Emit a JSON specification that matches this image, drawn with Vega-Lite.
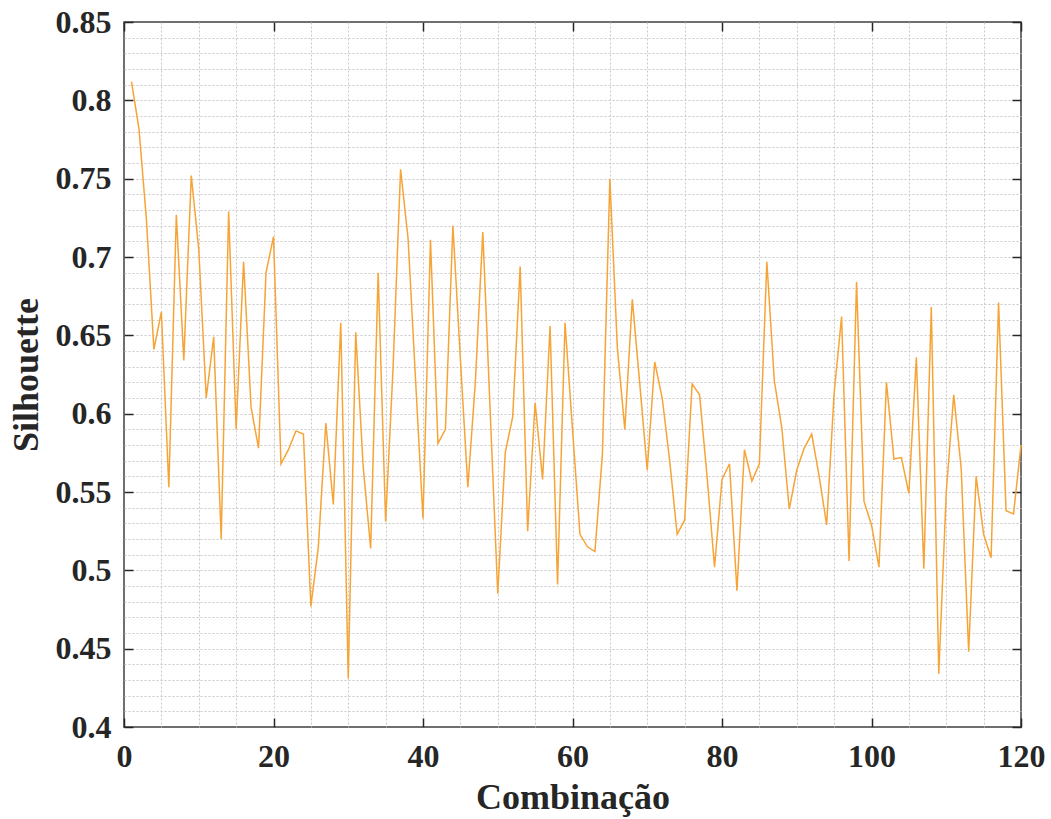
{
  "$schema": "https://vega.github.io/schema/vega-lite/v6.json",
  "autosize": "none",
  "width": 897,
  "height": 705,
  "padding": {"left": 124, "top": 22, "right": 30, "bottom": 92},
  "background": "white",
  "config": {
    "view": {"stroke": "#404040", "strokeWidth": 1.5},
    "font": "Liberation Serif",
    "axis": {
      "labelFont": "Liberation Serif",
      "labelFontWeight": "bold",
      "labelFontSize": 32,
      "labelColor": "#262626",
      "titleFont": "Liberation Serif",
      "titleFontWeight": "bold",
      "titleFontSize": 36,
      "titleColor": "#262626",
      "tickColor": "#262626",
      "domain": false
    }
  },
  "data": {
    "values": [
      {"Combinacao": 1, "Silhouette": 0.812}, {"Combinacao": 2, "Silhouette": 0.782}, {"Combinacao": 3, "Silhouette": 0.724}, {"Combinacao": 4, "Silhouette": 0.641}, {"Combinacao": 5, "Silhouette": 0.665},
      {"Combinacao": 6, "Silhouette": 0.553}, {"Combinacao": 7, "Silhouette": 0.727}, {"Combinacao": 8, "Silhouette": 0.634}, {"Combinacao": 9, "Silhouette": 0.752}, {"Combinacao": 10, "Silhouette": 0.705},
      {"Combinacao": 11, "Silhouette": 0.610}, {"Combinacao": 12, "Silhouette": 0.649}, {"Combinacao": 13, "Silhouette": 0.520}, {"Combinacao": 14, "Silhouette": 0.729}, {"Combinacao": 15, "Silhouette": 0.590},
      {"Combinacao": 16, "Silhouette": 0.697}, {"Combinacao": 17, "Silhouette": 0.604}, {"Combinacao": 18, "Silhouette": 0.578}, {"Combinacao": 19, "Silhouette": 0.690}, {"Combinacao": 20, "Silhouette": 0.713},
      {"Combinacao": 21, "Silhouette": 0.568}, {"Combinacao": 22, "Silhouette": 0.577}, {"Combinacao": 23, "Silhouette": 0.589}, {"Combinacao": 24, "Silhouette": 0.587}, {"Combinacao": 25, "Silhouette": 0.477},
      {"Combinacao": 26, "Silhouette": 0.515}, {"Combinacao": 27, "Silhouette": 0.594}, {"Combinacao": 28, "Silhouette": 0.542}, {"Combinacao": 29, "Silhouette": 0.658}, {"Combinacao": 30, "Silhouette": 0.431},
      {"Combinacao": 31, "Silhouette": 0.652}, {"Combinacao": 32, "Silhouette": 0.566}, {"Combinacao": 33, "Silhouette": 0.514}, {"Combinacao": 34, "Silhouette": 0.690}, {"Combinacao": 35, "Silhouette": 0.531},
      {"Combinacao": 36, "Silhouette": 0.630}, {"Combinacao": 37, "Silhouette": 0.756}, {"Combinacao": 38, "Silhouette": 0.712}, {"Combinacao": 39, "Silhouette": 0.622}, {"Combinacao": 40, "Silhouette": 0.533},
      {"Combinacao": 41, "Silhouette": 0.711}, {"Combinacao": 42, "Silhouette": 0.581}, {"Combinacao": 43, "Silhouette": 0.590}, {"Combinacao": 44, "Silhouette": 0.720}, {"Combinacao": 45, "Silhouette": 0.635},
      {"Combinacao": 46, "Silhouette": 0.553}, {"Combinacao": 47, "Silhouette": 0.620}, {"Combinacao": 48, "Silhouette": 0.716}, {"Combinacao": 49, "Silhouette": 0.600}, {"Combinacao": 50, "Silhouette": 0.485},
      {"Combinacao": 51, "Silhouette": 0.575}, {"Combinacao": 52, "Silhouette": 0.598}, {"Combinacao": 53, "Silhouette": 0.694}, {"Combinacao": 54, "Silhouette": 0.525}, {"Combinacao": 55, "Silhouette": 0.607},
      {"Combinacao": 56, "Silhouette": 0.558}, {"Combinacao": 57, "Silhouette": 0.656}, {"Combinacao": 58, "Silhouette": 0.491}, {"Combinacao": 59, "Silhouette": 0.658}, {"Combinacao": 60, "Silhouette": 0.590},
      {"Combinacao": 61, "Silhouette": 0.523}, {"Combinacao": 62, "Silhouette": 0.515}, {"Combinacao": 63, "Silhouette": 0.512}, {"Combinacao": 64, "Silhouette": 0.574}, {"Combinacao": 65, "Silhouette": 0.750},
      {"Combinacao": 66, "Silhouette": 0.642}, {"Combinacao": 67, "Silhouette": 0.590}, {"Combinacao": 68, "Silhouette": 0.673}, {"Combinacao": 69, "Silhouette": 0.619}, {"Combinacao": 70, "Silhouette": 0.564},
      {"Combinacao": 71, "Silhouette": 0.633}, {"Combinacao": 72, "Silhouette": 0.610}, {"Combinacao": 73, "Silhouette": 0.570}, {"Combinacao": 74, "Silhouette": 0.523}, {"Combinacao": 75, "Silhouette": 0.532},
      {"Combinacao": 76, "Silhouette": 0.619}, {"Combinacao": 77, "Silhouette": 0.612}, {"Combinacao": 78, "Silhouette": 0.560}, {"Combinacao": 79, "Silhouette": 0.502}, {"Combinacao": 80, "Silhouette": 0.558},
      {"Combinacao": 81, "Silhouette": 0.568}, {"Combinacao": 82, "Silhouette": 0.487}, {"Combinacao": 83, "Silhouette": 0.577}, {"Combinacao": 84, "Silhouette": 0.557}, {"Combinacao": 85, "Silhouette": 0.568},
      {"Combinacao": 86, "Silhouette": 0.697}, {"Combinacao": 87, "Silhouette": 0.621}, {"Combinacao": 88, "Silhouette": 0.591}, {"Combinacao": 89, "Silhouette": 0.539}, {"Combinacao": 90, "Silhouette": 0.564},
      {"Combinacao": 91, "Silhouette": 0.578}, {"Combinacao": 92, "Silhouette": 0.587}, {"Combinacao": 93, "Silhouette": 0.560}, {"Combinacao": 94, "Silhouette": 0.529}, {"Combinacao": 95, "Silhouette": 0.613},
      {"Combinacao": 96, "Silhouette": 0.662}, {"Combinacao": 97, "Silhouette": 0.506}, {"Combinacao": 98, "Silhouette": 0.684}, {"Combinacao": 99, "Silhouette": 0.544}, {"Combinacao": 100, "Silhouette": 0.529},
      {"Combinacao": 101, "Silhouette": 0.502}, {"Combinacao": 102, "Silhouette": 0.620}, {"Combinacao": 103, "Silhouette": 0.571}, {"Combinacao": 104, "Silhouette": 0.572}, {"Combinacao": 105, "Silhouette": 0.549},
      {"Combinacao": 106, "Silhouette": 0.636}, {"Combinacao": 107, "Silhouette": 0.501}, {"Combinacao": 108, "Silhouette": 0.668}, {"Combinacao": 109, "Silhouette": 0.434}, {"Combinacao": 110, "Silhouette": 0.550},
      {"Combinacao": 111, "Silhouette": 0.612}, {"Combinacao": 112, "Silhouette": 0.565}, {"Combinacao": 113, "Silhouette": 0.448}, {"Combinacao": 114, "Silhouette": 0.560}, {"Combinacao": 115, "Silhouette": 0.523},
      {"Combinacao": 116, "Silhouette": 0.508}, {"Combinacao": 117, "Silhouette": 0.671}, {"Combinacao": 118, "Silhouette": 0.538}, {"Combinacao": 119, "Silhouette": 0.536}, {"Combinacao": 120, "Silhouette": 0.580}
    ]
  },
  "layer": [
    {
      "mark": {"type": "line", "opacity": 0},
      "encoding": {
        "x": {"field": "Combinacao", "type": "quantitative", "scale": {"domain": [0, 120], "nice": false},
          "axis": {"orient": "bottom", "title": null, "labels": false, "ticks": false, "grid": true, "gridColor": "#c8c8c8", "gridDash": [2, 2], "gridWidth": 1, "values": [5,10,15,20,25,30,35,40,45,50,55,60,65,70,75,80,85,90,95,100,105,110,115]}},
        "y": {"field": "Silhouette", "type": "quantitative", "scale": {"domain": [0.4, 0.85], "nice": false, "zero": false},
          "axis": {"orient": "left", "title": null, "labels": false, "ticks": false, "grid": true, "gridColor": "#c8c8c8", "gridDash": [2, 2], "gridWidth": 1, "values": [0.41,0.42,0.43,0.44,0.45,0.46,0.47,0.48,0.49,0.5,0.51,0.52,0.53,0.54,0.55,0.56,0.57,0.58,0.59,0.6,0.61,0.62,0.63,0.64,0.65,0.66,0.67,0.68,0.69,0.7,0.71,0.72,0.73,0.74,0.75,0.76,0.77,0.78,0.79,0.8,0.81,0.82,0.83,0.84]}}
      }
    },
    {
      "mark": {"type": "line", "color": "#F7A437", "strokeWidth": 1.5},
      "encoding": {
        "x": {"field": "Combinacao", "type": "quantitative",
          "axis": {"orient": "bottom", "title": "Combinação", "grid": false, "values": [0, 20, 40, 60, 80, 100, 120], "tickSize": -9, "tickWidth": 1.5, "labelPadding": 23, "titlePadding": 8, "labelFlush": false, "labelOverlap": false}},
        "y": {"field": "Silhouette", "type": "quantitative",
          "axis": {"orient": "left", "title": "Silhouette", "grid": false, "values": [0.4, 0.45, 0.5, 0.55, 0.6, 0.65, 0.7, 0.75, 0.8, 0.85], "format": "~g", "tickSize": -9, "tickWidth": 1.5, "labelPadding": 22, "titlePadding": 10, "labelFlush": false, "labelOverlap": false}}
      }
    },
    {
      "mark": {"type": "line", "opacity": 0},
      "encoding": {
        "x": {"field": "Combinacao", "type": "quantitative",
          "axis": {"orient": "top", "title": null, "labels": false, "grid": false, "values": [0, 20, 40, 60, 80, 100, 120], "tickSize": -9, "tickWidth": 1.5}},
        "y": {"field": "Silhouette", "type": "quantitative",
          "axis": {"orient": "right", "title": null, "labels": false, "grid": false, "values": [0.4, 0.45, 0.5, 0.55, 0.6, 0.65, 0.7, 0.75, 0.8, 0.85], "tickSize": -9, "tickWidth": 1.5}}
      }
    }
  ],
  "resolve": {"axis": {"x": "independent", "y": "independent"}}
}
